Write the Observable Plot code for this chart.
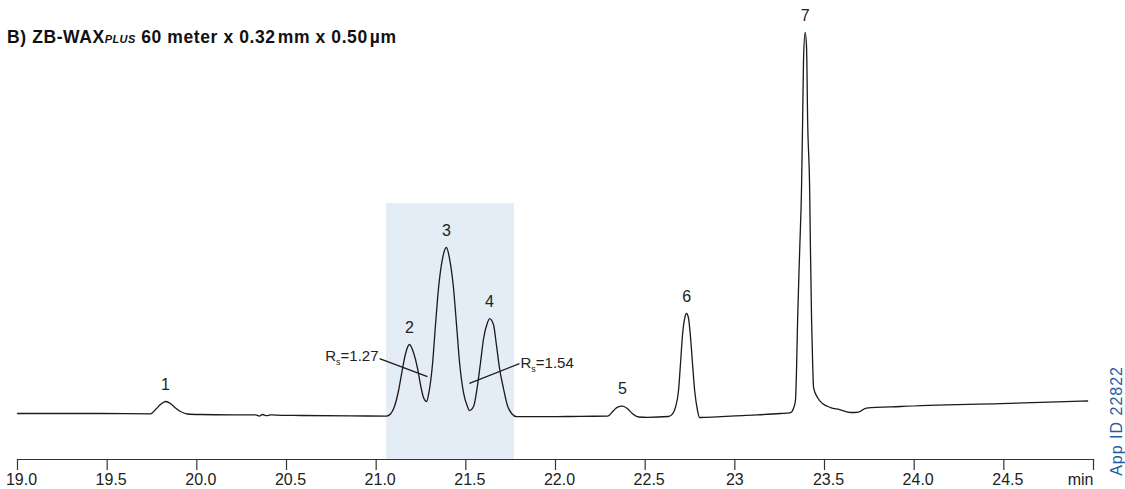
<!DOCTYPE html>
<html><head><meta charset="utf-8">
<script src="https://cdn.jsdelivr.net/npm/d3@7"></script>
<script src="https://cdn.jsdelivr.net/npm/@observablehq/plot@0.6"></script>
<style>
body{margin:0;background:#fff;}
#wrap{position:relative;width:1125px;height:489px;font-family:"Liberation Sans",Arial,sans-serif;overflow:hidden;}
#chart svg{display:block;}
#title{position:absolute;left:7px;top:29px;font-size:17.5px;letter-spacing:0.6px;font-weight:bold;line-height:16px;color:#111;white-space:nowrap;}
#title i{font-size:11px;letter-spacing:0.4px;}
#appid{position:absolute;left:1109px;top:366px;font-size:16px;letter-spacing:1px;line-height:16px;color:#1f5c9e;writing-mode:vertical-rl;transform:rotate(180deg);white-space:nowrap;}
</style></head><body>
<div id="wrap"><div id="chart"></div>
<div id="title">B) ZB-WAX<i>PLUS</i> 60 meter x 0.32&#8202;mm x 0.50&#8202;µm</div>
<div id="appid">App ID 22822</div></div>
<script>
// Chromatogram trace: retention time (min) and detector signal (relative, peak 7 = 100)
const times = [19.000,19.463,19.742,19.770,19.797,19.825,19.853,19.881,19.909,19.948,20.020,20.188,20.327,20.349,20.366,20.389,20.411,20.439,20.578,20.857,21.058,21.080,21.102,21.125,21.147,21.164,21.186,21.208,21.231,21.247,21.264,21.281,21.292,21.314,21.331,21.348,21.370,21.392,21.409,21.431,21.448,21.465,21.487,21.509,21.520,21.543,21.565,21.582,21.599,21.621,21.632,21.654,21.671,21.688,21.710,21.732,21.755,21.783,21.972,22.139,22.290,22.324,22.346,22.374,22.402,22.430,22.463,22.513,22.630,22.653,22.669,22.686,22.697,22.709,22.720,22.731,22.742,22.753,22.764,22.776,22.792,22.803,23.060,23.255,23.311,23.327,23.338,23.344,23.350,23.361,23.372,23.378,23.383,23.392,23.400,23.406,23.417,23.422,23.428,23.434,23.439,23.461,23.489,23.534,23.584,23.645,23.690,23.734,23.924,24.482,24.967];
const signal = [0,0,-0.08,1.05,2.36,3.15,2.62,1.44,0.52,-0.13,-0.26,-0.34,-0.34,-0.66,-0.26,-0.58,-0.34,-0.42,-0.52,-0.63,-0.66,-0.13,1.84,6.04,11.81,15.75,18.11,16.01,11.81,7.61,4.20,3.15,4.99,12.86,23.36,33.07,40.68,43.57,40.68,33.07,23.36,13.39,5.51,1.84,0.79,1.84,7.35,13.39,19.69,23.88,24.93,23.36,17.85,11.81,6.56,2.10,0,-0.84,-0.84,-0.73,-0.71,0.79,1.65,1.92,1.23,-0.08,-0.92,-1.00,-0.79,-0.08,1.65,6.04,13.12,21.00,24.93,26.25,24.93,19.95,13.12,6.04,0.79,-1.05,-0.47,0,0.26,1.31,3.41,11.29,24.41,42.00,59.32,76.90,92.65,100.0,96.06,76.90,59.32,42.00,24.41,13.12,6.82,4.20,2.62,1.57,1.05,0.26,0.39,1.44,1.84,2.62,3.28];

// Peak labels
const peakNames = ["1","2","3","4","5","6","7"];
const peakTimes = [19.825,21.186,21.392,21.632,22.374,22.731,23.392];
const peakHeights = [3.15,18.11,43.57,24.93,1.92,26.25,100.0];

// Resolution annotations
const rsLabels = ["R_s=1.27","R_s=1.54"];
const rsFromT = [21.019,21.799];
const rsFromS = [14.4,13.1];
const rsToT = [21.286,21.520];
const rsToS = [9.7,7.9];

// Highlighted window (min) and its top (signal units)
const windowStart = 21.058, windowEnd = 21.771, windowTop = 55.1;

// Axis ticks
const tickValues = [19,19.5,20,20.5,21,21.5,22,22.5,23,23.5,24,24.5,25];
const tickLabels = ["19.0","19.5","20.0","20.5","21.0","21.5","22.0","22.5","23","23.5","24.0","24.5","min"];

const yMin = -12.07, yMax = 108.4;
const trace = times.map((t,i)=>({t, s: signal[i]}));
const peaks = peakNames.map((n,i)=>({n, t: peakTimes[i], s: peakHeights[i]}));
const rs = rsLabels.map((l,i)=>({l, t1: rsFromT[i], s1: rsFromS[i], t2: rsToT[i], s2: rsToS[i]}));
const ticks = tickValues.map((v,i)=>({v, label: tickLabels[i]}));

const chart = Plot.plot({
  width: 1125, height: 489,
  marginLeft: 17, marginRight: 32, marginTop: 0, marginBottom: 30,
  x: {domain: [19,25], axis: null},
  y: {domain: [yMin,yMax], axis: null},
  style: {fontFamily: "'Liberation Sans', Arial, sans-serif", fontSize: "15px", color: "#222", background: "transparent", overflow: "visible"},
  marks: [
    Plot.rect([{a: windowStart, b: windowEnd, top: windowTop}], {x1: "a", x2: "b", y1: () => yMin, y2: "top", fill: "#e4ecf5"}),
    Plot.frame({anchor: "bottom", stroke: "#333", strokeWidth: 1.2}),
    Plot.axisX({ticks: tickValues, tickSize: 11, tickFormat: () => "", stroke: "#333", strokeWidth: 1.2}),
    Plot.text(ticks.filter(d => d.label.length > 3), {x: "v", text: "label", frameAnchor: "bottom", dy: 25, dx: 4, fontSize: 16, fill: "#222"}),
    Plot.text(ticks.filter(d => d.label === "23"), {x: "v", text: "label", frameAnchor: "bottom", dy: 25, fontSize: 16, fill: "#222"}),
    Plot.text(ticks.filter(d => d.label === "min"), {x: "v", text: "label", frameAnchor: "bottom", dy: 25, textAnchor: "end", fontSize: 16, fill: "#222"}),
    Plot.line(trace, {x: "t", y: "s", curve: "monotone-x", stroke: "#1a1a1a", strokeWidth: 1.3}),
    Plot.link(rs, {x1: "t1", y1: "s1", x2: "t2", y2: "s2", stroke: "#1a1a1a", strokeWidth: 1.3}),
    Plot.text(rs.slice(0,1), {x: "t1", y: "s1", text: "l", textAnchor: "end", dx: -1, dy: -2, fill: "#222"}),
    Plot.text(rs.slice(1), {x: "t1", y: "s1", text: "l", textAnchor: "start", dx: 1, dy: 0, fill: "#222"}),
    Plot.text(peaks, {x: "t", y: "s", text: "n", dy: -17, fontSize: 16, fill: "#222"})
  ]
});
document.getElementById("chart").appendChild(chart);
chart.querySelectorAll("text").forEach(el => {
  const s = el.textContent;
  if (s.startsWith("R_s")) {
    const rest = s.slice(3);
    while (el.firstChild) el.removeChild(el.firstChild);
    const ns = "http://www.w3.org/2000/svg";
    const a = document.createElementNS(ns, "tspan"); a.textContent = "R";
    const b = document.createElementNS(ns, "tspan"); b.textContent = "s"; b.setAttribute("font-size", "9"); b.setAttribute("dy", "4");
    const c = document.createElementNS(ns, "tspan"); c.textContent = rest; c.setAttribute("dy", "-4");
    el.appendChild(a); el.appendChild(b); el.appendChild(c);
  }
});
</script>
</body></html>
